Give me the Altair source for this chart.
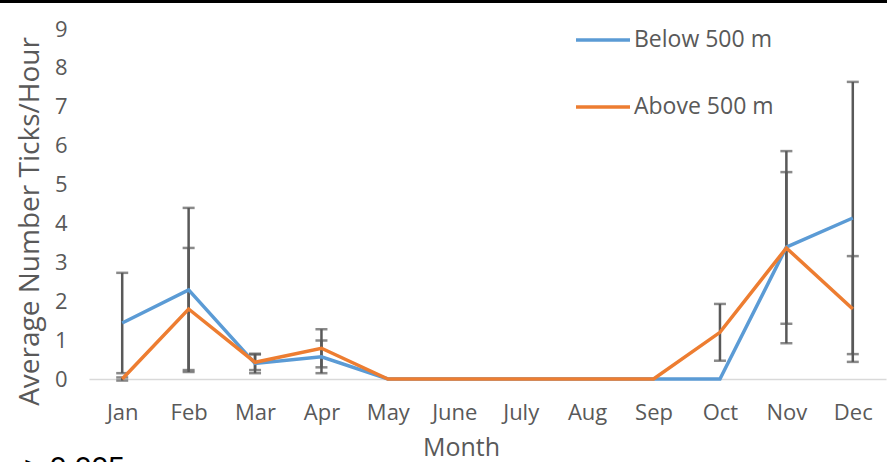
import altair as alt
import pandas as pd

# Monthly mean tick counts per hour, with error bar half-widths
months = ["Jan", "Feb", "Mar", "Apr", "May", "June", "July", "Aug", "Sep", "Oct", "Nov", "Dec"]
below = [1.44, 2.29, 0.40, 0.57, 0, 0, 0, 0, 0, 0, 3.39, 4.14]
below_err = [1.29, 2.11, 0.25, 0.42, 0, 0, 0, 0, 0, 0, 2.47, 3.50]
above = [0, 1.80, 0.43, 0.79, 0, 0, 0, 0, 0, 1.20, 3.37, 1.80]
above_err = [0.04, 1.57, 0.20, 0.49, 0, 0, 0, 0, 0, 0.73, 1.95, 1.36]

series_names = ["Below 500 m", "Above 500 m"]
series_colors = ["#5B9BD5", "#ED7D31"]
y_ticks = list(range(0, 10))

rows = []
for name, vals, errs in [(series_names[0], below, below_err), (series_names[1], above, above_err)]:
    for m, v, e in zip(months, vals, errs):
        rows.append({"month": m, "series": name, "value": v, "err": e,
                     "lo": v - e, "hi": v + e})
df = pd.DataFrame(rows)
err_df = df[df["err"] > 0]

FONT = "Open Sans"
GREY = "#595959"
Y_TITLE = "Average Number Ticks/Hour"

x_scale = alt.Scale(type="point", padding=0.5)
y_scale = alt.Scale(domain=[0, 9], nice=False)

x_axis = alt.Axis(labelAngle=0, labelAlign="center", ticks=False,
                  domainColor="#d9d9d9", domainWidth=1.3,
                  labelPadding=23, labelFontSize=22, labelOverlap=False,
                  titleFontSize=25, titleX=372, titleY=68,
                  titleBaseline="middle", titleAlign="center")
y_axis = alt.Axis(values=y_ticks, tickCount=10, grid=False, domain=False, ticks=False,
                  labelPadding=22, labelFontSize=22, labelOverlap=False,
                  titleFontSize=28, titlePadding=10, titleY=192, titleAlign="center")

x_enc = alt.X("month:N", sort=months, title="Month", scale=x_scale, axis=x_axis)


def y_enc(field):
    return alt.Y(field, scale=y_scale, title=Y_TITLE, axis=y_axis)


lines = alt.Chart(df).mark_line(strokeWidth=3.5).encode(
    x=x_enc,
    y=y_enc("value:Q"),
    color=alt.Color("series:N",
                    scale=alt.Scale(domain=series_names, range=series_colors),
                    legend=alt.Legend(title=None, orient="none", legendX=485, legendY=-18,
                                      symbolType="stroke", symbolSize=2916,
                                      symbolStrokeWidth=3.5, labelFontSize=23,
                                      labelOffset=2, rowPadding=26,
                                      labelColor=GREY, labelFont=FONT)),
)

err_rule = alt.Chart(err_df).mark_rule(color=GREY, strokeWidth=2.5).encode(
    x=x_enc, y=y_enc("lo:Q"), y2="hi:Q",
)
cap_lo = alt.Chart(err_df).mark_tick(color=GREY, thickness=2.5, size=12,
                                     orient="horizontal").encode(
    x=x_enc, y=y_enc("lo:Q"),
)
cap_hi = alt.Chart(err_df).mark_tick(color=GREY, thickness=2.5, size=12,
                                     orient="horizontal").encode(
    x=x_enc, y=y_enc("hi:Q"),
)

# black edge along the top of the figure
frame = alt.Chart(df).mark_rule(color="black", strokeWidth=3).encode(
    x=alt.value(-89), x2=alt.value(798), y=alt.value(-28)
)

note = alt.Chart(pd.DataFrame({"t": ["> 0.005"]})).mark_text(
    font="Liberation Sans", fontSize=30, color="black", align="left", baseline="top"
).encode(x=alt.value(-65), y=alt.value(424), text="t:N")

chart = alt.layer(frame, err_rule, cap_lo, cap_hi, lines, note).properties(
    width=797, height=350,
    autosize=alt.AutoSizeParams(type="none"),
    padding={"left": 89, "top": 29, "right": 1, "bottom": 83},
).configure_view(stroke=None).configure_axis(
    labelFont=FONT, titleFont=FONT, labelColor=GREY, titleColor=GREY,
    titleFontWeight="normal",
)

chart.save("out.html", embed_options={"renderer": "svg", "actions": False})
